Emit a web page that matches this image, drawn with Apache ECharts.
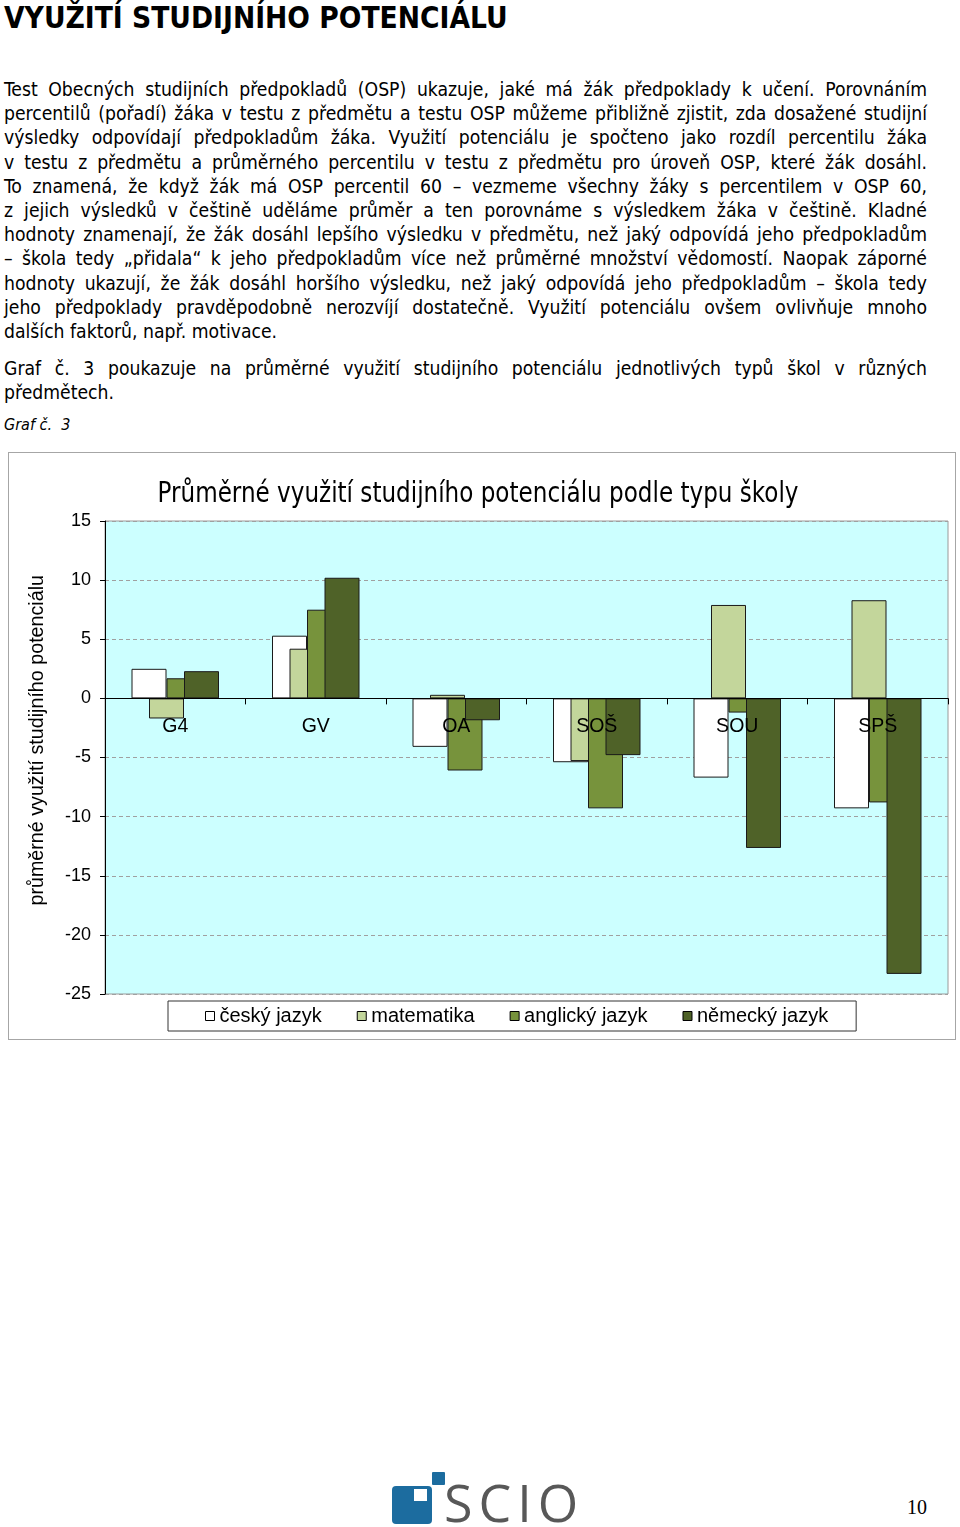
<!DOCTYPE html>
<html>
<head>
<meta charset="utf-8">
<script src="https://cdn.jsdelivr.net/npm/echarts@6/dist/echarts.min.js"></script>
<style>
  html, body { margin: 0; padding: 0; background: #fff; }
  body { width: 960px; height: 1527px; position: relative; overflow: hidden; }
  .h1 { position: absolute; left: 4px; top: 0px; font-family: "DejaVu Sans Condensed", "DejaVu Sans", sans-serif; font-weight: bold; font-size: 29.6px; line-height: 36px; color: #000; white-space: nowrap; }
  .para { position: absolute; left: 4px; width: 923px; font-family: "DejaVu Sans Condensed", "DejaVu Sans", sans-serif; font-size: 19.2px; line-height: 24.2px; color: #000; }
  .para div { white-space: nowrap; }
  .cap { position: absolute; left: 4px; top: 415px; font-family: "DejaVu Sans Condensed", "DejaVu Sans", sans-serif; font-style: italic; font-size: 16px; color: #000; }
  #chart { position: absolute; left: 8px; top: 452px; width: 946px; height: 586px; border: 1px solid #a6a6a6; }
  .logo-big { position: absolute; left: 392px; top: 1486px; width: 40px; height: 38px; background: #1c6c9f; border-radius: 4px; }
  .logo-in { position: absolute; left: 414px; top: 1489px; width: 13px; height: 12px; background: #fff; }
  .logo-small { position: absolute; left: 432px; top: 1472px; width: 13px; height: 13px; background: #1c6c9f; border-radius: 1px; }
  .logo-txt { position: absolute; left: 444px; top: 1472px; font-family: "Open Sans", "DejaVu Sans", sans-serif; font-weight: 400; font-size: 52px; line-height: 60px; color: #585858; letter-spacing: 6px; }
  .pgnum { position: absolute; left: 907px; top: 1496px; font-family: "Liberation Serif", "DejaVu Serif", serif; font-size: 20px; color: #000; }
</style>
</head>
<body>
<div class="h1" id="h1">VYUŽITÍ STUDIJNÍHO POTENCIÁLU</div>

<div class="para" style="top:78px">
  <div class="j">Test Obecných studijních předpokladů (OSP) ukazuje, jaké má žák předpoklady k učení. Porovnáním</div>
  <div class="j">percentilů (pořadí) žáka v testu z předmětu a testu OSP můžeme přibližně zjistit, zda dosažené studijní</div>
  <div class="j">výsledky odpovídají předpokladům žáka. Využití potenciálu je spočteno jako rozdíl percentilu žáka</div>
  <div class="j">v testu z předmětu a průměrného percentilu v testu z předmětu pro úroveň OSP, které žák dosáhl.</div>
  <div class="j">To znamená, že když žák má OSP percentil 60 – vezmeme všechny žáky s percentilem v OSP 60,</div>
  <div class="j">z jejich výsledků v češtině uděláme průměr a ten porovnáme s výsledkem žáka v češtině. Kladné</div>
  <div class="j">hodnoty znamenají, že žák dosáhl lepšího výsledku v předmětu, než jaký odpovídá jeho předpokladům</div>
  <div class="j">– škola tedy „přidala“ k jeho předpokladům více než průměrné množství vědomostí. Naopak záporné</div>
  <div class="j">hodnoty ukazují, že žák dosáhl horšího výsledku, než jaký odpovídá jeho předpokladům – škola tedy</div>
  <div class="j">jeho předpoklady pravděpodobně nerozvíjí dostatečně. Využití potenciálu ovšem ovlivňuje mnoho</div>
  <div>dalších faktorů, např. motivace.</div>
</div>

<div class="para" style="top:357px">
  <div class="j">Graf č. 3 poukazuje na průměrné využití studijního potenciálu jednotlivých typů škol v různých</div>
  <div>předmětech.</div>
</div>

<div class="cap">Graf č.&nbsp; 3</div>

<div id="chart"></div>

<div class="logo-small"></div>
<div class="logo-big"></div>
<div class="logo-in"></div>
<div class="logo-txt">SCIO</div>
<div class="pgnum">10</div>

<script>
// ---- data ----
const categories = ['G4', 'GV', 'OA', 'SOŠ', 'SOU', 'SPŠ'];
const seriesNames = ['český jazyk', 'matematika', 'anglický jazyk', 'německý jazyk'];
const cesky = [2.5, 5.3, -4.1, -5.4, -6.7, -9.3];
const matematika = [-1.7, 4.2, 0.3, -5.3, 7.9, 8.3];
const anglicky = [1.7, 7.5, -6.1, -9.3, -1.2, -8.8];
const nemecky = [2.3, 10.2, -1.85, -4.8, -12.65, -23.3];
const yTicks = [-25, -20, -15, -10, -5, 0, 5, 10, 15];

// ---- justify lines exactly ----
document.querySelectorAll('.para .j').forEach(function (el) {
  const target = 923;
  el.style.display = 'inline-block';
  const w = el.getBoundingClientRect().width;
  const spaces = (el.textContent.match(/ /g) || []).length;
  if (spaces > 0) el.style.wordSpacing = ((target - w) / spaces) + 'px';
  el.style.display = 'block';
});

// ---- chart ----
const values = [cesky, matematika, anglicky, nemecky];
const colors = ['#FFFFFF', '#C3D69B', '#77933C', '#4F6228'];
const chart = echarts.init(document.getElementById('chart'), null, { renderer: 'canvas' });
const font = '"Liberation Sans", Arial, sans-serif';

const gridTop = 68, gridH = 473;
const yMin = yTicks[0], yMax = yTicks[yTicks.length - 1];
// x-axis labels sit just under the zero line (as in the original); offset from the grid bottom
const zeroFromBottom = gridH * (0 - yMin) / (yMax - yMin);
const labelMargin = 18 - zeroFromBottom;

chart.setOption({
  animation: false,
  grid: {
    left: 96, top: gridTop, width: 843, height: gridH,
    show: true, backgroundColor: '#CCFFFF', borderColor: '#9a9a9a', borderWidth: 1
  },
  legend: {
    data: seriesNames,
    left: 159, top: 548,
    itemWidth: 9, itemHeight: 9, itemGap: 35,
    icon: 'rect',
    padding: [5, 28, 5, 37],
    borderColor: '#333', borderWidth: 1,
    itemStyle: { borderColor: '#000', borderWidth: 1 },
    textStyle: { fontFamily: font, fontSize: 20, color: '#000' }
  },
  graphic: [{
    type: 'text',
    x: 469, y: 41,
    scaleX: 0.885,
    style: {
      text: 'Průměrné využití studijního potenciálu podle typu školy',
      font: '29px "DejaVu Sans Condensed", "DejaVu Sans", sans-serif',
      fill: '#000', textAlign: 'center', textVerticalAlign: 'middle'
    }
  }, {
    type: 'text',
    left: 19, top: 122,
    rotation: Math.PI / 2,
    style: { text: 'průměrné využití studijního potenciálu', font: '19.7px "Liberation Sans", Arial, sans-serif', fill: '#000' }
  }],
  xAxis: {
    type: 'category',
    data: categories,
    z: 10,
    axisLine: { onZero: true, lineStyle: { color: '#000', width: 1 } },
    axisTick: { show: true, length: 6, alignWithLabel: false, lineStyle: { color: '#000' } },
    axisLabel: { margin: labelMargin, fontFamily: font, fontSize: 19.5, color: '#000' },
    splitLine: { show: false }
  },
  yAxis: {
    type: 'value',
    min: yMin, max: yMax, interval: 5,
    axisLine: { show: true, lineStyle: { color: '#000', width: 1 } },
    axisTick: { show: true, length: 5, lineStyle: { color: '#000' } },
    axisLabel: { margin: 14, fontFamily: font, fontSize: 18, color: '#000' },
    splitLine: { show: true, lineStyle: { color: '#a0a0a0', type: [4, 3], width: 1 } }
  },
  series: seriesNames.map(function (name, i) {
    return {
      name: name,
      type: 'bar',
      data: values[i],
      barWidth: 35,
      barGap: '-50%',
      itemStyle: { color: colors[i], borderColor: '#1a1a1a', borderWidth: 1 }
    };
  })
});
</script>
</body>
</html>
